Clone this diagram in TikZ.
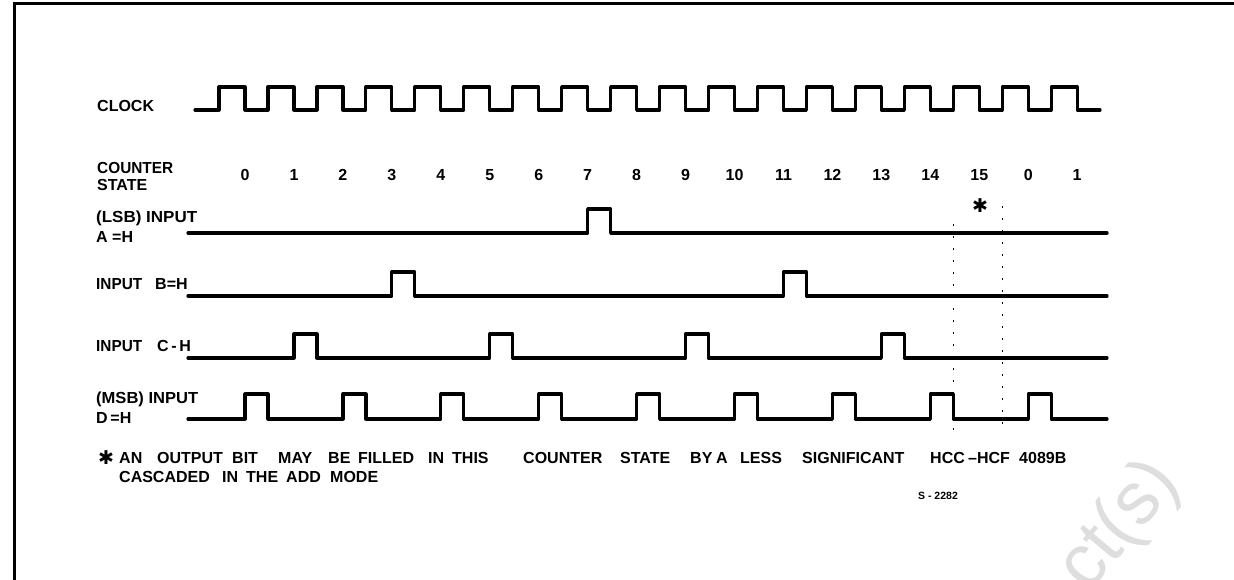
\documentclass[tikz,border=0pt]{standalone}
\usepackage{graphicx}
\usepackage{fontspec}
\setmainfont{Liberation Sans}
\newfontfamily\symfont{DejaVu Sans}
\newcommand\fitto[2]{\resizebox{#1pt}{\height}{#2}}
\begin{document}
\begin{tikzpicture}[x=1pt,y=-1pt,
  wave/.style={line width=3.2pt, line join=round, line cap=round},
  frame/.style={line width=3pt},
  lbl/.style={anchor=base west, inner sep=0pt, font=\fontsize{16}{17}\selectfont\bfseries},
  num/.style={anchor=base, inner sep=0pt, font=\fontsize{16}{17}\selectfont\bfseries},
  ast/.style={inner sep=0pt, font=\symfont\fontsize{19}{19}\selectfont\bfseries},
  small/.style={anchor=base, inner sep=0pt, font=\fontsize{10.5}{11}\selectfont\bfseries},
  dots/.style={line width=1.4pt, dash pattern=on 2pt off 10pt},
  wmark/.style={text=black!13, font=\fontsize{74}{74}\selectfont, rotate=50, inner sep=0pt}]
\useasboundingbox (0,0) rectangle (1234,579);
\fill[white] (0,0) rectangle (1234,579);
% frame
\draw[frame] (14,590) -- (14,3) -- (1240,3);
% watermark
\node[wmark] (wm) at (1120,526) {ct(s)};
% labels
\node[lbl] (lclk) at (97,111) {CLOCK};
\node[lbl] (lcs1) at (97,173) {\fitto{76}{COUNTER}};
\node[lbl] (lcs2) at (97,190) {\fitto{50}{STATE}};
\node[lbl] (la1) at (96,222) {\fitto{101}{(LSB) INPUT}};
\node[lbl] (la2) at (96,242) {A =H};
\node[lbl] (lb1) at (96,289) {\fitto{46}{INPUT}};
\node[lbl] (lb2) at (155,289) {B=H};
\node[lbl] (lc1) at (96,351) {\fitto{46}{INPUT}};
\node[lbl] (lc2) at (157,351) {C\,-\,H};
\node[lbl] (ld1) at (96,403) {\fitto{102}{(MSB) INPUT}};
\node[lbl] (ld2) at (96,423) {D\,=H};
% counter states
\foreach \s [count=\i from 0] in {0,1,2,3,4,5,6,7,8,9,10,11,12,13,14,15,0,1}
  \node[num] (st\i) at ({245+48.95*\i},180) {\s};
% clock
\draw[wave] (195,110) \foreach \n in {0,...,17}{
  -- ({245+48.95*\n-26},110) -- ({245+48.95*\n-26},87)
  -- ({245+48.95*\n},87) -- ({245+48.95*\n},110) } -- (1100,110);
% input A
\draw[wave] (188,233) \foreach \n in {7}{
  -- ({245+48.95*\n},233) -- ({245+48.95*\n},209)
  -- ({268+48.95*\n},209) -- ({268+48.95*\n},233) } -- (1107,233);
% input B
\draw[wave] (188,296) \foreach \n in {3,11}{
  -- ({245+48.95*\n},296) -- ({245+48.95*\n},272)
  -- ({268+48.95*\n},272) -- ({268+48.95*\n},296) } -- (1107,296);
% input C
\draw[wave] (188,358) \foreach \n in {1,5,9,13}{
  -- ({245+48.95*\n},358) -- ({245+48.95*\n},334)
  -- ({268+48.95*\n},334) -- ({268+48.95*\n},358) } -- (1107,358);
% input D
\draw[wave] (188,419) \foreach \n in {0,2,...,16}{
  -- ({245+48.95*\n},419) -- ({245+48.95*\n},394)
  -- ({268+48.95*\n},394) -- ({268+48.95*\n},419) } -- (1107,419);
% dotted markers
\coordinate (d1t) at (953.5,224);
\coordinate (d1b) at (953.5,433);
\coordinate (d2t) at (1002.5,206);
\coordinate (d2b) at (1002.5,433);
\draw[dots] (d1t) -- (d1b);
\draw[dots] (d2t) -- (d2b);
\node[ast] (astm) at (980,206) {✱};
% footnote
\node[ast] (astf) at (106,458) {✱};
\foreach \a/\w [count=\i] in
  {119/AN,157/OUTPUT,232/BIT,278/MAY,328/BE,358/FILLED,428/IN,452/THIS,
   523/COUNTER,620/STATE,690/BY,716/A,740/LESS,802/SIGNIFICANT,930/HCC,968/–HCF,1019/4089B}
  \node[lbl] (fa\i) at (\a,463) {\w};
\foreach \a/\w [count=\i] in {119/CASCADED,222/IN,246/THE,286/ADD,330/MODE}
  \node[lbl] (fb\i) at (\a,482) {\w};
\node[small] (code) at (938,499) {S - 2282};
\end{tikzpicture}
\end{document}
